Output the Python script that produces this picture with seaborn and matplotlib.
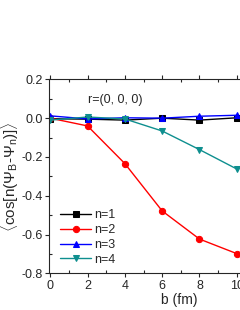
import numpy as np
import pandas as pd
import matplotlib
matplotlib.use("Agg")
import matplotlib.pyplot as plt
import seaborn as sns

# data
b = [0, 2, 4, 6, 8, 10]
n1 = [-0.003, -0.005, -0.01, 0.0, -0.01, 0.002]
n2 = [0.0, -0.04, -0.234, -0.478, -0.623, -0.698]
n3 = [0.012, -0.004, 0.002, 0.0, 0.01, 0.015]
n4 = [-0.01, 0.006, -0.004, -0.066, -0.162, -0.262]
labels = ["n=1", "n=2", "n=3", "n=4"]
colors = ["#000000", "#ff0000", "#0000ff", "#0e8f8f"]
markers = ["s", "o", "^", "v"]

sns.set_style("ticks")
plt.rcParams["font.family"] = ["Liberation Sans", "DejaVu Sans"]
plt.rcParams["mathtext.fontset"] = "custom"
plt.rcParams["mathtext.rm"] = "Liberation Sans"
plt.rcParams["mathtext.it"] = "Liberation Sans"

df = pd.DataFrame({"b": b * 4,
                   "val": n1 + n2 + n3 + n4,
                   "n": np.repeat(labels, len(b))})

fig = plt.figure(figsize=(2.4, 3.1), dpi=100)
ax = fig.add_axes([0.2054, 0.118, 0.859, 0.626])

for lab, c, m in zip(labels, colors, markers):
    sub = df[df["n"] == lab]
    sns.lineplot(data=sub, x="b", y="val", ax=ax, color=c, marker=m,
                 markersize=4.5, markeredgecolor=c, linewidth=1.0, label=lab)

ax.set_xlim(-0.05, 11)
ax.set_ylim(-0.8, 0.2)
ax.set_xticks([0, 2, 4, 6, 8, 10])
ax.set_xticks([1, 3, 5, 7, 9], minor=True)
ax.set_yticks([-0.8, -0.6, -0.4, -0.2, 0.0, 0.2])
ax.set_yticklabels(["-0.8", "-0.6", "-0.4", "-0.2", "0.0", "0.2"])
ax.set_yticks([-0.7, -0.5, -0.3, -0.1, 0.1], minor=True)
ax.tick_params(axis="both", which="major", direction="out", length=3,
               width=0.8, labelsize=9, pad=1.5)
ax.tick_params(axis="both", which="minor", direction="in", length=2, width=0.8)
ax.tick_params(top=True, which="both")
for s in ax.spines.values():
    s.set_linewidth(0.8)

ax.set_xlabel("b (fm)", fontsize=10)
ax.xaxis.set_label_coords(0.63, -0.102)
ax.set_ylabel(r"$\langle$cos[n($\Psi_{B}$-$\Psi_{n}$)]$\rangle$", fontsize=11)
ax.yaxis.set_label_coords(-0.138, 0.5)

ax.text(2.0, 0.095, "r=(0, 0, 0)", fontsize=9, va="center", ha="left")

ax.legend(loc="lower left", bbox_to_anchor=(0.01, -0.005), frameon=False,
          fontsize=9, handlelength=2.5, handletextpad=0.25,
          labelspacing=0.22, borderaxespad=0.3)

fig.savefig("out.png", dpi=100)
